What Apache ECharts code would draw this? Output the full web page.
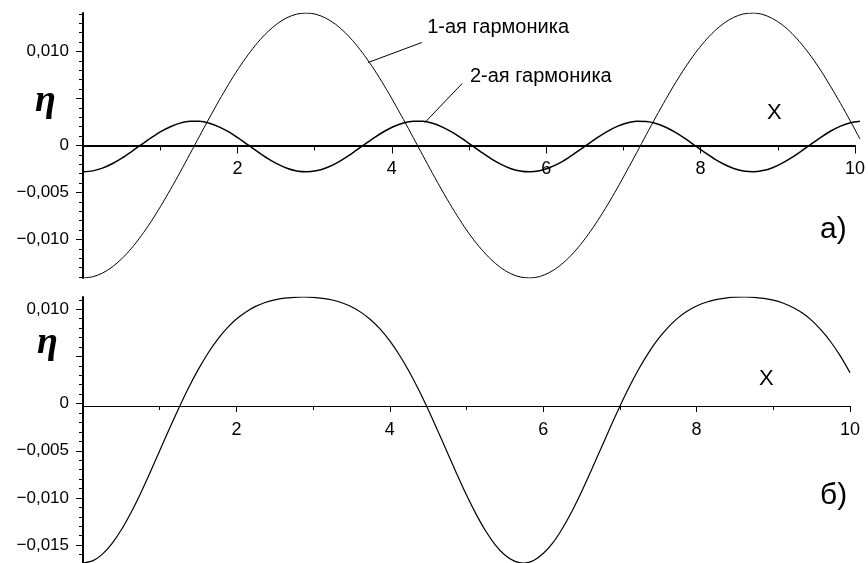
<!DOCTYPE html>
<html>
<head>
<meta charset="utf-8">
<script src="https://cdn.jsdelivr.net/npm/echarts@6/dist/echarts.min.js"></script>
<style>
html,body{margin:0;padding:0;background:#fff;}
#c{width:868px;height:563px;}
</style>
</head>
<body>
<div id="c"></div>
<script>
// x positions
const xs = [0,0.125,0.25,0.375,0.5,0.625,0.75,0.875,1,1.125,1.25,1.375,1.5,1.625,1.75,1.875,
  2,2.125,2.25,2.375,2.5,2.625,2.75,2.875,3,3.125,3.25,3.375,3.5,3.625,3.75,3.875,
  4,4.125,4.25,4.375,4.5,4.625,4.75,4.875,5,5.125,5.25,5.375,5.5,5.625,5.75,5.875,
  6,6.125,6.25,6.375,6.5,6.625,6.75,6.875,7,7.125,7.25,7.375,7.5,7.625,7.75,7.875,
  8,8.125,8.25,8.375,8.5,8.625,8.75,8.875,9,9.125,9.25,9.375,9.5,9.625,9.75,9.875,10];
// 1st harmonic (panel a)
const harmonic1 = [-0.01410,-0.01397,-0.01358,-0.01293,-0.01204,-0.01093,-0.00961,-0.00811,-0.00646,-0.00469,-0.00284,-0.00092,0.00100,0.00291,0.00477,0.00653,
  0.00818,0.00966,0.01098,0.01208,0.01296,0.01360,0.01398,0.01410,0.01396,0.01355,0.01290,0.01200,0.01088,0.00955,0.00805,0.00640,
  0.00462,0.00276,0.00085,-0.00108,-0.00299,-0.00484,-0.00660,-0.00824,-0.00973,-0.01102,-0.01212,-0.01299,-0.01362,-0.01399,-0.01410,-0.01395,
  -0.01353,-0.01287,-0.01196,-0.01083,-0.00949,-0.00798,-0.00633,-0.00455,-0.00268,-0.00077,0.00116,0.00306,0.00491,0.00667,0.00830,0.00978,
  0.01107,0.01216,0.01302,0.01364,0.01400,0.01410,0.01394,0.01351,0.01284,0.01192,0.01077,0.00944,0.00792,0.00624,0.00447,0.00261,0.00069];
// 2nd harmonic (panel a)
const harmonic2 = [-0.00280,-0.00270,-0.00241,-0.00194,-0.00134,-0.00064,0.00009,0.00081,0.00147,0.00200,0.00238,0.00258,0.00257,0.00237,0.00198,0.00144,
  0.00078,0.00006,-0.00067,-0.00136,-0.00196,-0.00242,-0.00271,-0.00280,-0.00269,-0.00239,-0.00192,-0.00131,-0.00061,0.00012,0.00084,0.00149,
  0.00202,0.00239,0.00258,0.00257,0.00236,0.00196,0.00142,0.00076,0.00003,-0.00070,-0.00139,-0.00198,-0.00244,-0.00271,-0.00280,-0.00268,
  -0.00237,-0.00190,-0.00128,-0.00058,0.00015,0.00087,0.00151,0.00204,0.00240,0.00258,0.00256,0.00235,0.00194,0.00139,0.00073,0.00000,
  -0.00073,-0.00142,-0.00200,-0.00245,-0.00272,-0.00280,-0.00267,-0.00236,-0.00187,-0.00126,-0.00056,0.00018,0.00090,0.00154,0.00206,0.00242,0.00259];
// resulting profile (panel б)
const profileSum = [-0.01690,-0.01667,-0.01599,-0.01487,-0.01338,-0.01157,-0.00952,-0.00730,-0.00499,-0.00269,-0.00046,0.00166,0.00357,0.00528,0.00675,0.00797,
  0.00896,0.00972,0.01031,0.01072,0.01100,0.01118,0.01127,0.01130,0.01127,0.01116,0.01098,0.01069,0.01027,0.00967,0.00889,0.00789,
  0.00664,0.00515,0.00343,0.00149,-0.00063,-0.00288,-0.00518,-0.00748,-0.00970,-0.01172,-0.01351,-0.01497,-0.01606,-0.01670,-0.01690,-0.01663,
  -0.01590,-0.01477,-0.01324,-0.01141,-0.00934,-0.00711,-0.00482,-0.00251,-0.00028,0.00181,0.00372,0.00541,0.00685,0.00806,0.00903,0.00978,
  0.01034,0.01074,0.01102,0.01119,0.01128,0.01130,0.01127,0.01115,0.01097,0.01066,0.01021,0.00962,0.00882,0.00778,0.00653,0.00503,0.00328];

// tick labels / tick values
const xTickLabels = [2,4,6,8,10];
const topYLabels = [-0.010,-0.005,0,0.010];
const topYMajorTicks = [-0.010,-0.005,0,0.005,0.010];
const bottomYLabels = [-0.015,-0.010,-0.005,0,0.010];
const bottomYMajorTicks = [-0.015,-0.010,-0.005,0,0.005,0.010];
const topYRange = [-0.0141, 0.0141];
const bottomYRange = [-0.0169, 0.0113];

// annotation texts
const label1 = '1-ая гармоника';
const label2 = '2-ая гармоника';

function minorList(lo, hi){ const a=[]; for(let k=lo;k<=hi;k++){ a.push(k/1000); } return a; }
const topYMinorTicks = minorList(-14, 14);
const bottomYMinorTicks = minorList(-16, 11);

function fmtY(v){
  if (Math.abs(v) < 1e-9) return '0';
  return (v < 0 ? '\u2212' : '') + Math.abs(v).toFixed(3).replace('.', ',');
}

const FONT = 'Liberation Sans, Arial, sans-serif';
function pairs(ys){ return xs.map((x,i)=>[x, ys[i]]); }

// hidden x axis carrying the scale for the data grid
function xHidden(gridIndex){
  return {type:'value', gridIndex, min:0, max:10, show:false, splitLine:{show:false}};
}
// visible x axis drawn at the bottom of a helper grid that ends at the zero line
function xVisible(gridIndex, lineW, major, minor){
  return {
    type:'value', gridIndex, min:0, max:10, interval:2, position:'bottom',
    axisLine:{show:true, onZero:false, lineStyle:{color:'#000', width:lineW}},
    axisTick:{show:true, length:major, lineStyle:{color:'#000', width:1}},
    minorTick:{show:true, splitNumber:2, length:minor, lineStyle:{color:'#000', width:1}},
    axisLabel:{customValues:xTickLabels, margin:15, color:'#000', fontSize:18, fontFamily:FONT, showMaxLabel:true},
    splitLine:{show:false}, minorSplitLine:{show:false}
  };
}
function yMain(gridIndex, range, ticks, labels){
  return {
    type:'value', gridIndex, min:range[0], max:range[1], position:'left',
    axisLine:{show:true, onZero:false, lineStyle:{color:'#000', width:2}},
    axisTick:{show:true, customValues:ticks, length:7, lineStyle:{color:'#000', width:1}},
    axisLabel:{show:true, customValues:labels, formatter:fmtY, margin:14, color:'#000', fontSize:17, fontFamily:FONT},
    splitLine:{show:false}
  };
}
function yMinor(gridIndex, range, ticks){
  return {
    type:'value', gridIndex, min:range[0], max:range[1], position:'left',
    axisLine:{show:false, onZero:false},
    axisTick:{show:true, customValues:ticks, length:4, lineStyle:{color:'#000', width:1}},
    axisLabel:{show:false},
    splitLine:{show:false}
  };
}
function yHidden(gridIndex){
  return {type:'value', gridIndex, min:0, max:1, show:false, splitLine:{show:false}};
}

const chart = echarts.init(document.getElementById('c'), null, {renderer:'canvas'});
chart.setOption({
  animation:false,
  backgroundColor:'#fff',
  grid:[
    {left:83, right:8, top:13, bottom:285},      // data grid a)
    {left:83, right:8, top:13, bottom:417.5},    // axis grid a) (ends at zero)
    {left:83, right:18, top:297, bottom:-6},     // data grid б)
    {left:83, right:18, top:297, bottom:157}     // axis grid б) (ends at zero)
  ],
  xAxis:[ xHidden(0), xVisible(1, 2, 8, 5), xHidden(2), xVisible(3, 1, 6, 4) ],
  yAxis:[
    yMain(0, topYRange, topYMajorTicks, topYLabels),
    yMinor(0, topYRange, topYMinorTicks),
    yHidden(1),
    yMain(2, bottomYRange, bottomYMajorTicks, bottomYLabels),
    yMinor(2, bottomYRange, bottomYMinorTicks),
    yHidden(3)
  ],
  series:[
    {
      type:'line', xAxisIndex:0, yAxisIndex:0, data:pairs(harmonic1), smooth:0.3,
      showSymbol:false, lineStyle:{color:'#000', width:1}, silent:true, z:3,
      markLine:{
        silent:true, symbol:'none', label:{show:false},
        lineStyle:{color:'#000', width:1, type:'solid'},
        data:[ [ {coord:[3.67, 0.00883]}, {coord:[4.36, 0.01096]} ] ]
      },
      markPoint:{
        silent:true, symbolSize:0,
        label:{show:true, position:'right', distance:0, color:'#000', fontSize:20, fontFamily:FONT, formatter:label1},
        data:[ {coord:[4.43, 0.01255]} ]
      }
    },
    {
      type:'line', xAxisIndex:0, yAxisIndex:0, data:pairs(harmonic2), smooth:0.3,
      showSymbol:false, lineStyle:{color:'#000', width:1.5}, silent:true, z:3,
      markLine:{
        silent:true, symbol:'none', label:{show:false},
        lineStyle:{color:'#000', width:1, type:'solid'},
        data:[ [ {coord:[4.40, 0.00245]}, {coord:[4.88, 0.0066]} ] ]
      },
      markPoint:{
        silent:true, symbolSize:0,
        label:{show:true, position:'right', distance:0, color:'#000', fontSize:20, fontFamily:FONT, formatter:label2},
        data:[ {coord:[4.98, 0.00734]} ]
      }
    },
    {
      type:'line', xAxisIndex:2, yAxisIndex:3, data:pairs(profileSum), smooth:0.3,
      showSymbol:false, lineStyle:{color:'#000', width:1.2}, silent:true, z:3
    }
  ],
  graphic:[
    {type:'text', left:35, top:82, style:{text:'η', font:'italic bold 38px "Liberation Serif", serif', fill:'#000'}},
    {type:'text', left:37, top:324, style:{text:'η', font:'italic bold 38px "Liberation Serif", serif', fill:'#000'}},
    {type:'text', left:767, top:102, style:{text:'X', font:'22px "Liberation Sans", Arial, sans-serif', fill:'#000'}},
    {type:'text', left:759, top:368, style:{text:'X', font:'22px "Liberation Sans", Arial, sans-serif', fill:'#000'}},
    {type:'text', left:820, top:215, style:{text:'a)', font:'30px "Liberation Sans", Arial, sans-serif', fill:'#000'}},
    {type:'text', left:820, top:481, style:{text:'б)', font:'30px "Liberation Sans", Arial, sans-serif', fill:'#000'}}
  ]
});
</script>
</body>
</html>
